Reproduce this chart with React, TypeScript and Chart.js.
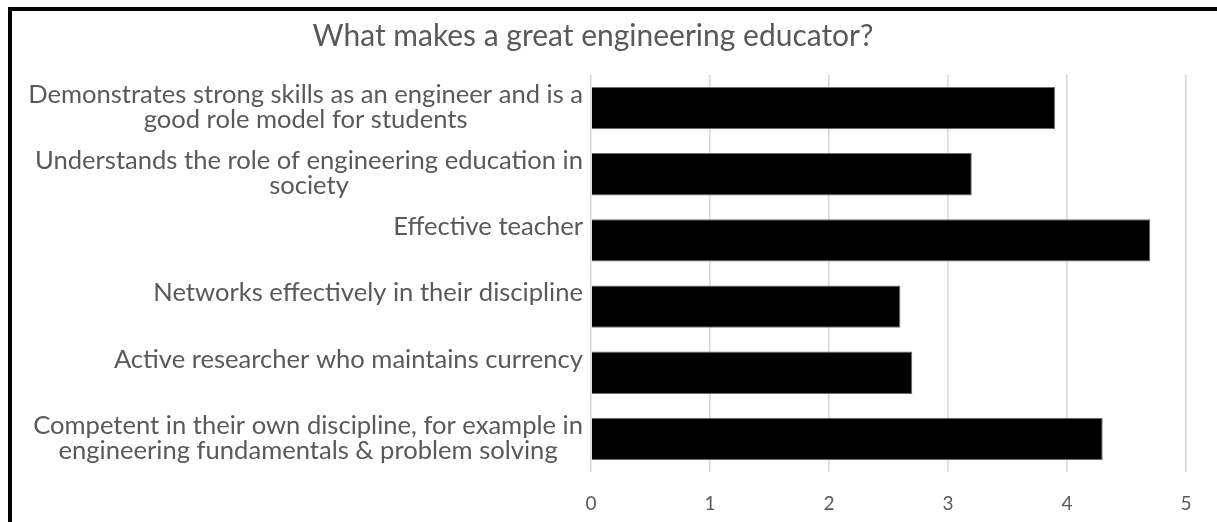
import React, { useEffect, useRef } from "react";
import { Chart, registerables } from "chart.js";

Chart.register(...registerables);

const TITLE = "What makes a great engineering educator?";

const categories: string[][] = [
  ["Demonstrates strong skills as an engineer and is a", "good role model for students"],
  ["Understands the role of engineering education in", "society"],
  ["Effective teacher"],
  ["Networks effectively in their discipline"],
  ["Active researcher who maintains currency"],
  ["Competent in their own discipline, for example in", "engineering fundamentals & problem solving"],
];

const values: number[] = [3.9, 3.2, 4.7, 2.6, 2.7, 4.3];

const xTickValues: number[] = [0, 1, 2, 3, 4, 5];

const FONT = "Lato";
const TEXT_COLOR = "#595959";

function fitSize(text: string, target: number): number {
  const c = document.createElement("canvas").getContext("2d");
  if (!c) return 20;
  c.font = `100px ${FONT}`;
  const w = c.measureText(text).width;
  return (100 * target) / w;
}

export default function App() {
  const ref = useRef<HTMLCanvasElement | null>(null);

  useEffect(() => {
    if (!ref.current) return;
    const labelSize = fitSize(categories[0][0], 555);
    const titleSize = fitSize(TITLE, 561);
    const lineH = 25;
    const labelRight = 583;

    const labelPlugin = {
      id: "catLabels",
      afterDraw(chart: any) {
        const ctx = chart.ctx;
        const yScale = chart.scales.y;
        ctx.save();
        ctx.font = `${labelSize}px ${FONT}`;
        ctx.fillStyle = TEXT_COLOR;
        ctx.textAlign = "center";
        ctx.textBaseline = "middle";
        categories.forEach((lines, i) => {
          const cy = yScale.getPixelForValue(i);
          const widest = Math.max(...lines.map((l) => ctx.measureText(l).width));
          const cx = labelRight - widest / 2;
          const slots = Math.max(lines.length, 2);
          const y0 = cy - ((slots - 1) * lineH) / 2 - 1;
          lines.forEach((l, j) => {
            ctx.fillText(l, cx, y0 + j * lineH);
          });
        });
        ctx.restore();
      },
    };

    const chart = new Chart(ref.current, {
      type: "bar",
      data: {
        labels: categories.map((c) => c.join(" ")),
        datasets: [
          {
            data: values,
            backgroundColor: "#000000",
            borderColor: "#6e6e6e",
            borderWidth: 1,
            barPercentage: 0.64,
            categoryPercentage: 1,
          },
        ],
      },
      options: {
        indexAxis: "y",
        animation: false,
        responsive: false,
        layout: { padding: { left: 0, right: 31, top: 0, bottom: 0 } },
        plugins: {
          legend: { display: false },
          tooltip: { enabled: false },
          title: {
            display: true,
            text: TITLE,
            color: TEXT_COLOR,
            font: { family: FONT, size: titleSize, weight: "normal" },
            padding: { top: 36 - titleSize * 0.6, bottom: 75 - 36 - titleSize * 0.6 },
          },
        },
        scales: {
          x: {
            min: 0,
            max: 5,
            afterBuildTicks: (s: any) => {
              s.ticks = xTickValues.map((v) => ({ value: v }));
            },
            ticks: {
              color: TEXT_COLOR,
              font: { family: FONT, size: 19 },
              padding: 20,
            },
            grid: { color: "#d9d9d9", lineWidth: 1.6, drawTicks: false },
            border: { display: false },
            afterFit: (s: any) => {
              s.height = 50;
            },
          },
          y: {
            ticks: { display: false },
            grid: { display: false },
            border: { display: false },
            afterFit: (s: any) => {
              s.width = 591;
            },
          },
        },
      },
      plugins: [labelPlugin],
    } as any);
    return () => chart.destroy();
  }, []);

  return (
    <div
      style={{
        position: "fixed",
        left: 0,
        top: 0,
        width: 1217,
        height: 522,
        overflow: "hidden",
        background: "#ffffff",
      }}
    >
      <canvas ref={ref} width={1217} height={522} style={{ display: "block" }} />
      <div
        style={{
          position: "absolute",
          left: 8,
          top: 7,
          width: 1209,
          height: 515,
          borderTop: "4px solid #000",
          borderLeft: "4px solid #000",
          boxSizing: "border-box",
          pointerEvents: "none",
        }}
      />
    </div>
  );
}
